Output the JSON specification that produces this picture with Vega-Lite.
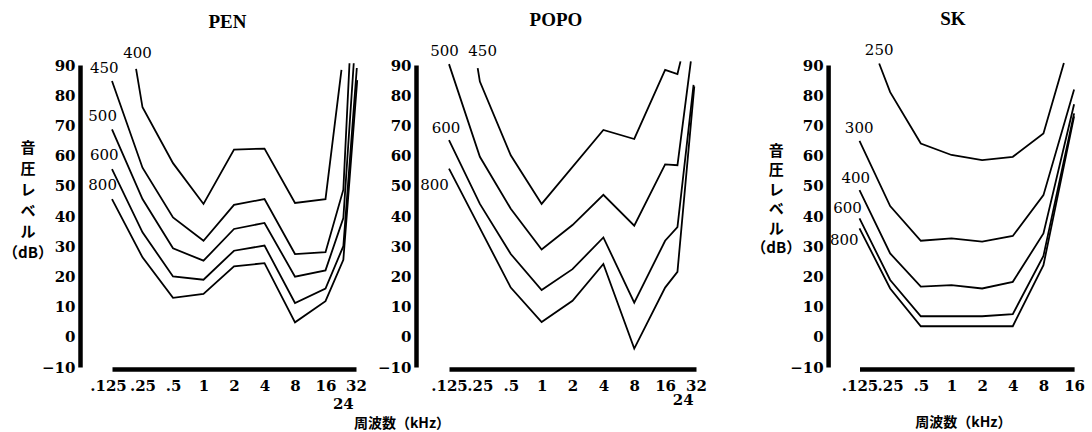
{
  "$schema": "https://vega.github.io/schema/vega-lite/v6.json",
  "background": "white",
  "padding": {"left": 2, "top": 9, "right": 0, "bottom": 0},
  "config": {
    "view": {"stroke": null},
    "axis": {"grid": false, "ticks": false, "domainColor": "black", "domainWidth": 4.5, "labelColor": "black", "labelFont": "DejaVu Serif", "labelFontWeight": "bold", "labelFontSize": 15, "labelOverlap": false, "labelSeparation": 0, "tickCount": 30, "titleColor": "black"},
    "title": {"font": "Liberation Serif", "fontSize": 19, "fontWeight": "bold", "color": "black", "frame": "group"},
    "line": {"color": "black", "strokeWidth": 1.8},
    "text": {"font": "DejaVu Serif", "fontSize": 15, "color": "black"}
  },
  "datasets": {
    "pen": [
      {"c": "400", "f": 0.216, "db": 88.7}, {"c": "400", "f": 0.25, "db": 76}, {"c": "400", "f": 0.5, "db": 57.5}, {"c": "400", "f": 1, "db": 44}, {"c": "400", "f": 2, "db": 62}, {"c": "400", "f": 4, "db": 62.3}, {"c": "400", "f": 8, "db": 44.3}, {"c": "400", "f": 16, "db": 45.6}, {"c": "400", "f": 23, "db": 88.4},
      {"c": "450", "f": 0.125, "db": 84.7}, {"c": "450", "f": 0.25, "db": 56}, {"c": "450", "f": 0.5, "db": 39.5}, {"c": "450", "f": 1, "db": 31.8}, {"c": "450", "f": 2, "db": 43.7}, {"c": "450", "f": 4, "db": 45.6}, {"c": "450", "f": 8, "db": 27.4}, {"c": "450", "f": 16, "db": 28}, {"c": "450", "f": 24, "db": 48.7}, {"c": "450", "f": 27.6, "db": 90.6},
      {"c": "500", "f": 0.125, "db": 68.7}, {"c": "500", "f": 0.25, "db": 45.6}, {"c": "500", "f": 0.5, "db": 29.3}, {"c": "500", "f": 1, "db": 25.2}, {"c": "500", "f": 2, "db": 35.7}, {"c": "500", "f": 4, "db": 37.7}, {"c": "500", "f": 8, "db": 19.9}, {"c": "500", "f": 16, "db": 22}, {"c": "500", "f": 24, "db": 39.3}, {"c": "500", "f": 30.4, "db": 90.6},
      {"c": "600", "f": 0.125, "db": 55.5}, {"c": "600", "f": 0.25, "db": 34.6}, {"c": "600", "f": 0.5, "db": 20}, {"c": "600", "f": 1, "db": 18.9}, {"c": "600", "f": 2, "db": 28.5}, {"c": "600", "f": 4, "db": 30.2}, {"c": "600", "f": 8, "db": 11.2}, {"c": "600", "f": 16, "db": 16}, {"c": "600", "f": 24, "db": 30}, {"c": "600", "f": 32.6, "db": 89},
      {"c": "800", "f": 0.125, "db": 45.6}, {"c": "800", "f": 0.25, "db": 26.3}, {"c": "800", "f": 0.5, "db": 12.9}, {"c": "800", "f": 1, "db": 14.2}, {"c": "800", "f": 2, "db": 23.3}, {"c": "800", "f": 4, "db": 24.4}, {"c": "800", "f": 8, "db": 4.8}, {"c": "800", "f": 16, "db": 11.8}, {"c": "800", "f": 24, "db": 25.5}, {"c": "800", "f": 32.9, "db": 85}
    ],
    "penlab": [
      {"label": "400", "f": 0.223, "db": 94, "k": "curve"},
      {"label": "450", "f": 0.105, "db": 89, "k": "curve"},
      {"label": "500", "f": 0.101, "db": 73, "k": "curve"},
      {"label": "600", "f": 0.105, "db": 60.3, "k": "curve"},
      {"label": "800", "f": 0.101, "db": 50.3, "k": "curve"},
      {"label": "24", "f": 24, "db": -22.2, "k": "tick"}
    ],
    "popo": [
      {"c": "450", "f": 0.238, "db": 89}, {"c": "450", "f": 0.25, "db": 84.5}, {"c": "450", "f": 0.5, "db": 60.1}, {"c": "450", "f": 1, "db": 44}, {"c": "450", "f": 4, "db": 68.5}, {"c": "450", "f": 8, "db": 65.5}, {"c": "450", "f": 16, "db": 88.4}, {"c": "450", "f": 21.1, "db": 87}, {"c": "450", "f": 22.6, "db": 91.2},
      {"c": "500", "f": 0.125, "db": 90.3}, {"c": "500", "f": 0.25, "db": 59.6}, {"c": "500", "f": 0.5, "db": 42.4}, {"c": "500", "f": 1, "db": 28.9}, {"c": "500", "f": 2, "db": 37}, {"c": "500", "f": 4, "db": 47}, {"c": "500", "f": 8, "db": 36.8}, {"c": "500", "f": 16, "db": 57.1}, {"c": "500", "f": 21.1, "db": 56.8}, {"c": "500", "f": 28.5, "db": 91.2},
      {"c": "600", "f": 0.125, "db": 65.1}, {"c": "600", "f": 0.25, "db": 44}, {"c": "600", "f": 0.5, "db": 27.4}, {"c": "600", "f": 1, "db": 15.5}, {"c": "600", "f": 2, "db": 22.4}, {"c": "600", "f": 4, "db": 32.9}, {"c": "600", "f": 8, "db": 11.3}, {"c": "600", "f": 16, "db": 31.8}, {"c": "600", "f": 21.1, "db": 36.3}, {"c": "600", "f": 30.3, "db": 83.4},
      {"c": "800", "f": 0.125, "db": 55.7}, {"c": "800", "f": 0.25, "db": 36}, {"c": "800", "f": 0.5, "db": 16.3}, {"c": "800", "f": 1, "db": 4.9}, {"c": "800", "f": 2, "db": 11.9}, {"c": "800", "f": 4, "db": 24.1}, {"c": "800", "f": 8, "db": -3.9}, {"c": "800", "f": 16, "db": 16.3}, {"c": "800", "f": 21.1, "db": 21.5}, {"c": "800", "f": 30.8, "db": 82.9}
    ],
    "popolab": [
      {"label": "500", "f": 0.113, "db": 94.5, "k": "curve"},
      {"label": "450", "f": 0.266, "db": 94.5, "k": "curve"},
      {"label": "600", "f": 0.117, "db": 69, "k": "curve"},
      {"label": "800", "f": 0.0902, "db": 50.1, "k": "curve"},
      {"label": "24", "f": 24, "db": -21, "k": "tick"}
    ],
    "sk": [
      {"c": "250", "f": 0.195, "db": 90.5}, {"c": "250", "f": 0.25, "db": 81}, {"c": "250", "f": 0.5, "db": 64}, {"c": "250", "f": 1, "db": 60.2}, {"c": "250", "f": 2, "db": 58.5}, {"c": "250", "f": 4, "db": 59.6}, {"c": "250", "f": 8, "db": 67.3}, {"c": "250", "f": 12.7, "db": 90.7},
      {"c": "300", "f": 0.125, "db": 64.9}, {"c": "300", "f": 0.25, "db": 43.3}, {"c": "300", "f": 0.5, "db": 31.8}, {"c": "300", "f": 1, "db": 32.6}, {"c": "300", "f": 2, "db": 31.5}, {"c": "300", "f": 4, "db": 33.4}, {"c": "300", "f": 8, "db": 46.9}, {"c": "300", "f": 16, "db": 81.9},
      {"c": "400", "f": 0.125, "db": 48.6}, {"c": "400", "f": 0.25, "db": 27.6}, {"c": "400", "f": 0.5, "db": 16.6}, {"c": "400", "f": 1, "db": 17.1}, {"c": "400", "f": 2, "db": 16}, {"c": "400", "f": 4, "db": 18.2}, {"c": "400", "f": 8, "db": 34.2}, {"c": "400", "f": 16, "db": 77},
      {"c": "600", "f": 0.125, "db": 39.2}, {"c": "600", "f": 0.25, "db": 18.8}, {"c": "600", "f": 0.5, "db": 6.8}, {"c": "600", "f": 1, "db": 6.8}, {"c": "600", "f": 2, "db": 6.8}, {"c": "600", "f": 4, "db": 7.5}, {"c": "600", "f": 8, "db": 26.8}, {"c": "600", "f": 16, "db": 74},
      {"c": "800", "f": 0.125, "db": 35.9}, {"c": "800", "f": 0.25, "db": 16}, {"c": "800", "f": 0.5, "db": 3.5}, {"c": "800", "f": 1, "db": 3.5}, {"c": "800", "f": 2, "db": 3.5}, {"c": "800", "f": 4, "db": 3.5}, {"c": "800", "f": 8, "db": 23.7}, {"c": "800", "f": 16, "db": 73}
    ],
    "sklab": [
      {"label": "250", "f": 0.195, "db": 95, "k": "curve"},
      {"label": "300", "f": 0.124, "db": 69, "k": "curve"},
      {"label": "400", "f": 0.115, "db": 52.5, "k": "curve"},
      {"label": "600", "f": 0.0955, "db": 42.5, "k": "curve"},
      {"label": "800", "f": 0.0885, "db": 32, "k": "curve"}
    ]
  },
  "bounds": "full",
  "spacing": 43.5,
  "hconcat": [
    {
      "bounds": "flush",
      "spacing": 93,
      "hconcat": [
        {
          "width": 244,
          "height": 302,
          "title": {"text": "PEN", "dx": -6.5, "offset": 14},
          "layer": [
            {
              "data": {"name": "pen"},
              "mark": {"type": "line"},
              "encoding": {
                "x": {"field": "f", "type": "quantitative", "scale": {"type": "log", "base": 2, "domain": [0.125, 32], "nice": false},
                  "axis": {"values": [0.125, 0.25, 0.5, 1, 2, 4, 8, 16, 32], "tickCount": 30, "labelExpr": "datum.value < 1 ? slice(toString(datum.value), 1) : toString(datum.value)", "labelFlush": false, "labelOverlap": false, "offset": 2, "labelPadding": 9,
                    "labelOffset": {"condition": {"test": "datum.value === 0.125", "value": -4}, "value": 0},
                    "title": "周波数（kHz）", "titleFont": "Noto Sans CJK JP", "titleFontSize": 14, "titleFontWeight": "bold", "titleX": 289.5, "titleY": 54, "titleBaseline": "middle", "titleAlign": "center"}},
                "y": {"field": "db", "type": "quantitative", "scale": {"domain": [-10, 90], "nice": false, "zero": false},
                  "axis": {"values": [-10, 0, 10, 20, 30, 40, 50, 60, 70, 80, 90], "tickCount": 30, "labelOverlap": false, "offset": 32, "labelPadding": 5,
                    "title": ["音", "圧", "レ", "ベ", "ル", "（dB）"], "titleAngle": 0, "titleAlign": "center", "titleBaseline": "top", "titleX": -52.5, "titleY": 75, "titleLineHeight": 21, "titleFont": "Noto Sans CJK JP", "titleFontSize": 15, "titleFontWeight": "bold"}},
                "detail": {"field": "c"}
              }
            },
            {
              "data": {"name": "penlab"},
              "transform": [{"filter": "datum.k === 'curve'"}],
              "mark": {"type": "text", "baseline": "middle", "align": "center"},
              "encoding": {"x": {"field": "f", "type": "quantitative"}, "y": {"field": "db", "type": "quantitative"}, "text": {"field": "label"}}
            },
            {
              "data": {"name": "penlab"},
              "transform": [{"filter": "datum.k === 'tick'"}],
              "mark": {"type": "text", "baseline": "middle", "align": "center", "fontWeight": "bold"},
              "encoding": {"x": {"field": "f", "type": "quantitative"}, "y": {"field": "db", "type": "quantitative"}, "text": {"field": "label"}}
            }
          ]
        },
        {
          "width": 247,
          "height": 302,
          "title": {"text": "POPO", "dx": -16.5, "offset": 14},
          "layer": [
            {
              "data": {"name": "popo"},
              "mark": {"type": "line"},
              "encoding": {
                "x": {"field": "f", "type": "quantitative", "scale": {"type": "log", "base": 2, "domain": [0.125, 32], "nice": false},
                  "axis": {"values": [0.125, 0.25, 0.5, 1, 2, 4, 8, 16, 32], "tickCount": 30, "labelExpr": "datum.value < 1 ? slice(toString(datum.value), 1) : toString(datum.value)", "labelFlush": false, "labelOverlap": false, "offset": 2, "labelPadding": 9, "title": null}},
                "y": {"field": "db", "type": "quantitative", "scale": {"domain": [-10, 90], "nice": false, "zero": false},
                  "axis": {"values": [-10, 0, 10, 20, 30, 40, 50, 60, 70, 80, 90], "tickCount": 30, "labelOverlap": false, "offset": 33, "labelPadding": 5, "title": null}},
                "detail": {"field": "c"}
              }
            },
            {
              "data": {"name": "popolab"},
              "transform": [{"filter": "datum.k === 'curve'"}],
              "mark": {"type": "text", "baseline": "middle", "align": "center"},
              "encoding": {"x": {"field": "f", "type": "quantitative"}, "y": {"field": "db", "type": "quantitative"}, "text": {"field": "label"}}
            },
            {
              "data": {"name": "popolab"},
              "transform": [{"filter": "datum.k === 'tick'"}],
              "mark": {"type": "text", "baseline": "middle", "align": "center", "fontWeight": "bold"},
              "encoding": {"x": {"field": "f", "type": "quantitative"}, "y": {"field": "db", "type": "quantitative"}, "text": {"field": "label"}}
            }
          ]
        }
      ]
    },
    {
      "width": 214.6,
      "height": 302,
      "title": {"text": "SK", "dx": -14, "offset": 14},
      "layer": [
        {
          "data": {"name": "sk"},
          "mark": {"type": "line"},
          "encoding": {
            "x": {"field": "f", "type": "quantitative", "scale": {"type": "log", "base": 2, "domain": [0.125, 16], "nice": false},
              "axis": {"values": [0.125, 0.25, 0.5, 1, 2, 4, 8, 16], "tickCount": 30, "labelExpr": "datum.value < 1 ? slice(toString(datum.value), 1) : toString(datum.value)", "labelFlush": false, "labelOverlap": false, "offset": 2, "labelPadding": 9,
                "title": "周波数（kHz）", "titleFont": "Noto Sans CJK JP", "titleFontSize": 14, "titleFontWeight": "bold", "titleX": 103.3, "titleY": 53, "titleBaseline": "middle", "titleAlign": "center"}},
            "y": {"field": "db", "type": "quantitative", "scale": {"domain": [-10, 90], "nice": false, "zero": false},
              "axis": {"values": [-10, 0, 10, 20, 30, 40, 50, 60, 70, 80, 90], "tickCount": 30, "labelOverlap": false, "offset": 31.4, "labelPadding": 5,
                "title": ["音", "圧", "レ", "ベ", "ル", "（dB）"], "titleAngle": 0, "titleAlign": "center", "titleBaseline": "top", "titleX": -52.3, "titleY": 78, "titleLineHeight": 19.5, "titleFont": "Noto Sans CJK JP", "titleFontSize": 15, "titleFontWeight": "bold"}},
            "detail": {"field": "c"}
          }
        },
        {
          "data": {"name": "sklab"},
          "mark": {"type": "text", "baseline": "middle", "align": "center"},
          "encoding": {"x": {"field": "f", "type": "quantitative"}, "y": {"field": "db", "type": "quantitative"}, "text": {"field": "label"}}
        }
      ]
    }
  ]
}
